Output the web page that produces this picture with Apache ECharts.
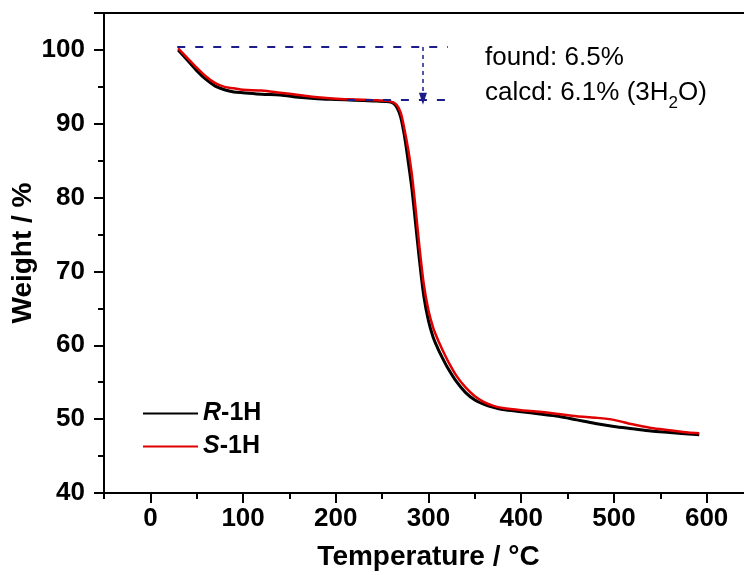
<!DOCTYPE html>
<html>
<head>
<meta charset="utf-8">
<script src="https://cdn.jsdelivr.net/npm/echarts@6/dist/echarts.min.js"></script>
</head>
<body style="margin:0">
<div id="main" style="width:744px;height:575px;"></div>
<script>
// temperature (°C) and weight (%)
var tempR = [30, 40, 50, 60, 70, 80, 90, 100, 120, 140, 160, 180, 200, 220, 240, 255, 262, 266, 270, 274, 278, 282, 286, 290, 295, 300, 305, 310, 315, 320, 330, 340, 350, 360, 370, 380, 400, 420, 440, 460, 480, 500, 520, 540, 560, 580, 592];
var weightR = [100.0, 98.6, 97.2, 96.0, 95.1, 94.6, 94.3, 94.2, 94.0, 93.9, 93.6, 93.4, 93.3, 93.2, 93.1, 93.0, 92.8, 92.2, 90.9, 88.4, 85.0, 81.3, 76.6, 71.8, 66.6, 63.3, 61.1, 59.6, 58.3, 57.1, 55.1, 53.6, 52.6, 52.0, 51.6, 51.3, 51.0, 50.7, 50.4, 49.9, 49.4, 49.0, 48.7, 48.4, 48.2, 48.0, 47.9];
var tempS = [30, 40, 50, 60, 70, 80, 90, 100, 120, 140, 160, 180, 200, 220, 240, 255, 262, 266, 270, 274, 278, 282, 286, 290, 295, 300, 305, 310, 315, 320, 330, 340, 350, 360, 370, 380, 400, 420, 440, 460, 480, 500, 520, 540, 560, 580, 592];
var weightS = [100.2, 98.9, 97.6, 96.4, 95.5, 95.0, 94.8, 94.6, 94.5, 94.2, 93.9, 93.6, 93.4, 93.3, 93.2, 93.1, 92.9, 92.5, 91.5, 89.3, 86.6, 83.2, 78.6, 73.6, 68.2, 64.7, 62.4, 60.8, 59.4, 58.1, 55.9, 54.3, 53.1, 52.3, 51.8, 51.5, 51.2, 51.0, 50.7, 50.4, 50.2, 49.9, 49.3, 48.8, 48.5, 48.2, 48.1];
// mass-loss marker: two dashed levels and the arrow between them
var stepTop = 100.4, stepBottom = 93.2;
var stepTopX = [29, 321];
var stepBottomX = [212, 321];
var arrowX = 294;
// tick labels on the temperature axis
var xMajor = [0, 100, 200, 300, 400, 500, 600];
var xMinor = [-50, 50, 150, 250, 350, 450, 550, 650];

var chart = echarts.init(document.getElementById('main'));

function zip(a, b) {
    var out = [];
    for (var i = 0; i < a.length; i++) out.push([a[i], b[i]]);
    return out;
}

var ink = '#000';
var tickFont = { fontFamily: 'Liberation Sans', fontWeight: 'bold', fontSize: 26, color: ink };
var nameFont = { fontFamily: 'Liberation Sans', fontWeight: 'bold', fontSize: 28, color: ink };

chart.setOption({
    animation: false,
    grid: { left: 104, right: -9, top: 13, bottom: 82, outerBoundsMode: 'none', containLabel: false },
    xAxis: [
        {
            type: 'value', min: -50, max: 650,
            axisLine: { onZero: false, lineStyle: { color: ink, width: 2 } },
            axisTick: { length: 10, customValues: xMajor, lineStyle: { color: ink, width: 2 } },
            axisLabel: Object.assign({ margin: 13, customValues: xMajor }, tickFont),
            splitLine: { show: false },
            name: 'Temperature / \u00b0C',
            nameLocation: 'middle', nameGap: 50, nameMoveOverlap: false,
            nameTextStyle: nameFont
        },
        {
            // minor ticks
            type: 'value', min: -50, max: 650, position: 'bottom',
            axisLine: { show: false },
            axisTick: { length: 6, customValues: xMinor, lineStyle: { color: ink, width: 2 } },
            axisLabel: { show: false }, splitLine: { show: false }
        },
        {
            // top frame
            type: 'value', min: -50, max: 650, position: 'top',
            axisLine: { lineStyle: { color: ink, width: 2 } },
            axisTick: { show: false }, axisLabel: { show: false }, splitLine: { show: false }
        }
    ],
    yAxis: {
        type: 'value', min: 40, max: 105, interval: 10,
        axisLine: { onZero: false, lineStyle: { color: ink, width: 2 } },
        axisTick: { length: 10, lineStyle: { color: ink, width: 2 } },
        minorTick: { show: true, splitNumber: 2, length: 6, lineStyle: { color: ink, width: 2 } },
        axisLabel: Object.assign({ margin: 19, showMaxLabel: false }, tickFont),
        splitLine: { show: false },
        name: 'Weight / %',
        nameLocation: 'middle', nameGap: 67, nameRotate: 90, nameMoveOverlap: false,
        nameTextStyle: nameFont
    },
    legend: {
        left: 138, top: 395, orient: 'vertical', itemGap: 6,
        itemWidth: 55, itemHeight: 2,
        icon: 'rect',
        textStyle: { fontFamily: 'Liberation Sans', fontWeight: 'bold', fontSize: 25, color: ink, lineHeight: 27,
            rich: { i: { fontStyle: 'italic', fontWeight: 'bold', fontSize: 25, lineHeight: 27, fontFamily: 'Liberation Sans' } } },
        formatter: function (n) { return '{i|' + n.charAt(0) + '}' + n.slice(1); },
        data: ['R-1H', 'S-1H']
    },
    series: [
        {
            name: 'R-1H', type: 'line', smooth: 0.3, showSymbol: false,
            lineStyle: { color: ink, width: 3 }, itemStyle: { color: ink },
            data: zip(tempR, weightR), z: 2
        },
        {
            name: 'S-1H', type: 'line', smooth: 0.3, showSymbol: false,
            lineStyle: { color: '#e00000', width: 2.5 }, itemStyle: { color: '#e00000' },
            data: zip(tempS, weightS), z: 3,
            markLine: {
                silent: true, symbol: 'none', label: { show: false },
                lineStyle: { color: '#1c1c8a', type: [8, 10], width: 2 },
                data: [
                    [{ coord: [stepTopX[0], stepTop] }, { coord: [stepTopX[1], stepTop] }],
                    [{ coord: [stepBottomX[0], stepBottom] }, { coord: [stepBottomX[1], stepBottom] }],
                    [{ coord: [arrowX, stepTop], symbol: 'none' },
                     { coord: [arrowX, stepBottom + 0.2], symbol: 'triangle', symbolSize: [8, 12],
                       lineStyle: { type: [4, 4], width: 1.5 } }]
                ]
            }
        }
    ],
    graphic: [
        {
            type: 'text', left: 485, top: 45,
            style: { text: 'found: 6.5%', font: '26px "Liberation Sans"', fill: ink }
        },
        {
            type: 'text', left: 485, top: 80,
            style: {
                text: 'calcd: 6.1% (3H{s|2}O)', font: '26px "Liberation Sans"', fill: ink,
                rich: { s: { fontSize: 17, fontFamily: 'Liberation Sans', padding: [20, 0, 0, 0] } }
            }
        }
    ]
});
</script>
</body>
</html>
